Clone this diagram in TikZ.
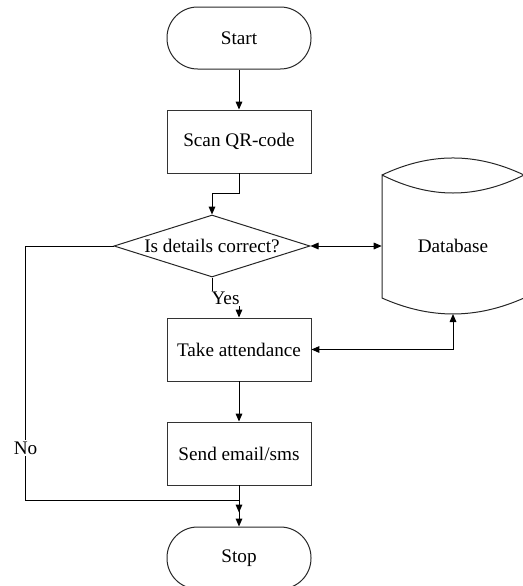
\documentclass[tikz,border=0pt]{standalone}
\usepackage{fontspec}
\setmainfont{Liberation Serif}
\usetikzlibrary{shapes.geometric,arrows.meta}
\begin{document}
\begin{tikzpicture}[x=0.75pt,y=-0.75pt,
  every node/.style={font=\fontsize{14.4}{17}\selectfont},
  term/.style={draw=black!85, line width=0.75pt, rectangle, rounded corners=23pt, minimum width=108pt, minimum height=46.5pt, inner sep=0pt},
  procbox/.style={draw=black!80, line width=0.7pt, rectangle, minimum width=108pt, minimum height=47.25pt, inner sep=0pt},
  decbox/.style={draw=black!85, line width=0.75pt, diamond, aspect=3.16, minimum width=147pt, minimum height=46.5pt, inner sep=0pt},
  arr/.style={line width=0.75pt, -{Triangle[length=6pt,width=5pt]}},
  arrb/.style={line width=0.75pt, {Triangle[length=6pt,width=5pt]}-{Triangle[length=6pt,width=5pt]}},
  lbl/.style={fill=white, inner sep=1pt}
]
\useasboundingbox (0,0) rectangle (523,586);

\node[term] (start) at (239,38) {Start};
\node[procbox] (scan) at (239,141.5) {Scan QR-code};
\node[decbox] (dec) at (212,246) {Is details correct?};
\node[procbox] (take) at (239,349.5) {Take attendance};
\node[procbox] (send) at (239,453.5) {Send email/sms};
\node[term] (stop) at (239,558) {Stop};

% database
\node[minimum width=106.5pt, minimum height=102pt, inner sep=0pt] (db) at (453,246) {Database};
\coordinate (dbbot) at (453,314);
\draw[line width=0.75pt, black!85] (382,175) .. controls (430,152.3) and (476,152.3) .. (524,175)
   .. controls (476,199) and (430,199) .. (382,175) -- (382,298)
   .. controls (430,319.3) and (476,319.3) .. (524,298) -- (524,175);

\draw[arr] (start.south) -- (scan.north);
\draw[arr] (scan.south) -- ++(0,20) -| (dec.north);
\draw[arr] (dec.south) -- ++(0,21) -- node[lbl]{Yes} ++(27,0) -- (take.north);
\draw[arrb] (dec.east) -- (db.west);
\draw[arrb] (take.east) -| (dbbot);
\draw[arr] (take.south) -- (send.north);
\draw[arr] (send.south) -- (stop.north);
\draw[arr, shorten >=10.5pt] (dec.west) -- ++(-88,0) -- node[lbl, pos=0.795]{No} ++(0,254) -| (stop.north);
\end{tikzpicture}
\end{document}
